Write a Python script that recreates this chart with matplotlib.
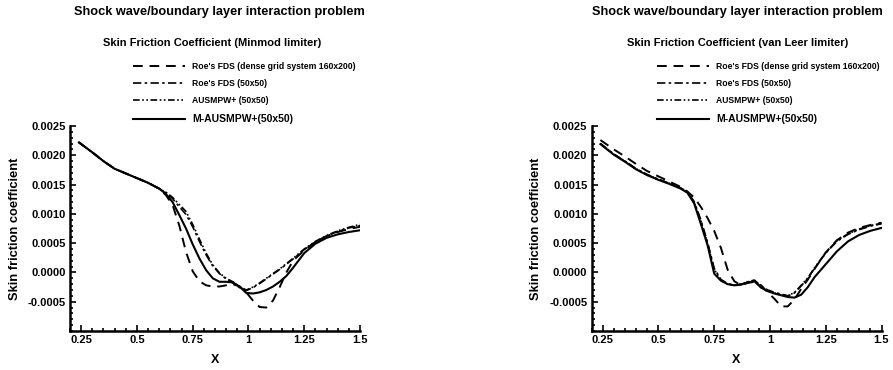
import numpy as np
import matplotlib.pyplot as plt
from matplotlib.ticker import MultipleLocator, FixedLocator, FixedFormatter

plt.rcParams['font.family'] = ['Liberation Sans', 'DejaVu Sans']
plt.rcParams['font.weight'] = 'bold'

# shared x stations
x = [0.24, 0.3, 0.35, 0.4, 0.45, 0.5, 0.55, 0.6, 0.63, 0.66, 0.69, 0.72, 0.75,
     0.78, 0.81, 0.84, 0.87, 0.9, 0.93, 0.96, 0.99, 1.02, 1.05, 1.08, 1.11,
     1.14, 1.17, 1.2, 1.25, 1.3, 1.35, 1.4, 1.45, 1.5]

# Minmod limiter panel
mm_roe_dense = [0.00222, 0.00205, 0.00190, 0.00177, 0.00169, 0.00161, 0.00153, 0.00143,
                0.00132, 0.00115, 0.00080, 0.00035, 0.00002, -0.00015, -0.00022, -0.00024,
                -0.00024, -0.00022, -0.00020, -0.00024, -0.00034, -0.00048, -0.00059, -0.00060,
                -0.00048, -0.00025, 0.00000, 0.00020, 0.00038, 0.00052, 0.00062, 0.00069,
                0.00074, 0.00078]
mm_roe_50 = [0.00222, 0.00205, 0.00190, 0.00177, 0.00169, 0.00161, 0.00153, 0.00143,
             0.00136, 0.00126, 0.00112, 0.00099, 0.00078, 0.00053, 0.00030, 0.00011,
             -0.00002, -0.00011, -0.00018, -0.00026, -0.00031, -0.00026, -0.00019, -0.00011,
             -0.00003, 0.00005, 0.00014, 0.00023, 0.00039, 0.00052, 0.00062, 0.00070,
             0.00076, 0.00080]
mm_ausmpw = [0.00222, 0.00205, 0.00190, 0.00177, 0.00169, 0.00161, 0.00153, 0.00143,
             0.00137, 0.00128, 0.00116, 0.00104, 0.00082, 0.00057, 0.00033, 0.00013,
             -0.00001, -0.00010, -0.00016, -0.00024, -0.00030, -0.00025, -0.00018, -0.00010,
             -0.00002, 0.00006, 0.00015, 0.00024, 0.00040, 0.00053, 0.00063, 0.00071,
             0.00077, 0.00082]
mm_m_ausmpw = [0.00222, 0.00205, 0.00190, 0.00177, 0.00169, 0.00161, 0.00153, 0.00143,
               0.00134, 0.00120, 0.00098, 0.00075, 0.00048, 0.00024, 0.00004, -0.00010,
               -0.00016, -0.00016, -0.00017, -0.00024, -0.00035, -0.00036, -0.00034, -0.00030,
               -0.00024, -0.00016, -0.00006, 0.00008, 0.00033, 0.00049, 0.00059, 0.00065,
               0.00069, 0.00072]

# van Leer limiter panel
vl_roe_dense = [0.00226, 0.00210, 0.00198, 0.00185, 0.00173, 0.00164, 0.00155, 0.00146,
                0.00138, 0.00128, 0.00112, 0.00093, 0.00071, 0.00042, 0.00005, -0.00015,
                -0.00022, -0.00018, -0.00016, -0.00022, -0.00034, -0.00045, -0.00058, -0.00058,
                -0.00046, -0.00028, -0.00012, 0.00006, 0.00034, 0.00055, 0.00068, 0.00076,
                0.00081, 0.00085]
vl_roe_50 = [0.00220, 0.00202, 0.00190, 0.00177, 0.00167, 0.00159, 0.00152, 0.00144,
             0.00138, 0.00121, 0.00090, 0.00052, 0.00007, -0.00012, -0.00019, -0.00022,
             -0.00020, -0.00016, -0.00013, -0.00023, -0.00030, -0.00034, -0.00037, -0.00040,
             -0.00035, -0.00023, -0.00010, 0.00007, 0.00033, 0.00053, 0.00065, 0.00073,
             0.00079, 0.00083]
vl_ausmpw = [0.00220, 0.00202, 0.00190, 0.00177, 0.00167, 0.00159, 0.00152, 0.00144,
             0.00137, 0.00120, 0.00088, 0.00050, 0.00005, -0.00013, -0.00020, -0.00022,
             -0.00020, -0.00016, -0.00014, -0.00024, -0.00031, -0.00035, -0.00038, -0.00040,
             -0.00034, -0.00022, -0.00009, 0.00008, 0.00034, 0.00054, 0.00066, 0.00074,
             0.00080, 0.00084]
vl_m_ausmpw = [0.00219, 0.00201, 0.00189, 0.00176, 0.00166, 0.00158, 0.00151, 0.00143,
               0.00136, 0.00118, 0.00083, 0.00047, -0.00002, -0.00014, -0.00020, -0.00022,
               -0.00021, -0.00017, -0.00015, -0.00026, -0.00032, -0.00036, -0.00039, -0.00042,
               -0.00043, -0.00038, -0.00025, -0.00008, 0.00014, 0.00036, 0.00053, 0.00064,
               0.00071, 0.00076]

labels = ["Roe's FDS (dense grid system 160x200)", "Roe's FDS (50x50)",
          "AUSMPW+ (50x50)", "M-AUSMPW+(50x50)"]
styles = [(0, (5, 3.5)), (0, (5, 2, 1.5, 2)), (0, (4, 1.5, 1, 1.5, 1, 1.5)), '-']
widths = [1.4, 1.2, 1.2, 1.5]

xticks = [0.25, 0.5, 0.75, 1, 1.25, 1.5]
xticklabels = ['0.25', '0.5', '0.75', '1', '1.25', '1.5']
yticks = [-0.0005, 0.0, 0.0005, 0.0010, 0.0015, 0.0020, 0.0025]
yticklabels = ['-0.0005', '0.0000', '0.0005', '0.0010', '0.0015', '0.0020', '0.0025']

fig = plt.figure(figsize=(8.93, 3.70), dpi=100)

panels = [
    (70, 'Skin Friction Coefficient (Minmod limiter)', 219, 212, 133,
     [mm_roe_dense, mm_roe_50, mm_ausmpw, mm_m_ausmpw]),
    (591.5, 'Skin Friction Coefficient (van Leer limiter)', 737, 738, 657,
     [vl_roe_dense, vl_roe_50, vl_ausmpw, vl_m_ausmpw]),
]

for left, sub, tx, sx, lx, series in panels:
    ax = fig.add_axes([left / 893, 39 / 370, 290 / 893, 205 / 370])
    for ys, ls, lw, lab in zip(series, styles, widths, labels):
        ax.plot(x, ys, color='black', linestyle=ls, linewidth=lw, label=lab)
    ax.set_xlim(0.2, 1.5)
    ax.set_ylim(-0.001, 0.0025)
    ax.xaxis.set_major_locator(FixedLocator(xticks))
    ax.xaxis.set_major_formatter(FixedFormatter(xticklabels))
    ax.yaxis.set_major_locator(FixedLocator(yticks))
    ax.yaxis.set_major_formatter(FixedFormatter(yticklabels))
    ax.xaxis.set_minor_locator(MultipleLocator(0.05))
    ax.yaxis.set_minor_locator(MultipleLocator(0.0001))
    ax.tick_params(which='both', direction='in', width=1.2, labelsize=8)
    ax.tick_params(which='major', length=4, pad=3)
    ax.tick_params(which='minor', length=2)
    ax.spines['top'].set_visible(False)
    ax.spines['right'].set_visible(False)
    ax.spines['left'].set_linewidth(1.8)
    ax.spines['bottom'].set_linewidth(1.8)
    for t in ax.get_xticklabels() + ax.get_yticklabels():
        t.set_fontweight('bold')
    ax.set_ylabel('Skin friction coefficient', fontsize=9.3, fontweight='bold')
    ax.yaxis.set_label_coords(-0.17, 0.5)
    ax.set_xlabel('X', fontsize=9, fontweight='bold')
    ax.xaxis.set_label_coords(0.5, -0.11)

    fig.text(tx / 893, 1 - 12 / 370, 'Shock wave/boundary layer interaction problem',
             ha='center', va='center', fontsize=9.2, fontweight='bold')
    fig.text(sx / 893, 1 - 43 / 370, sub, ha='center', va='center',
             fontsize=8, fontweight='bold')

    leg = ax.legend(loc='upper left', bbox_to_anchor=(lx / 893, 1 - 62 / 370),
                    bbox_transform=fig.transFigure, frameon=False, fontsize=6.2,
                    handlelength=6.0, handletextpad=0.9, labelspacing=0.95,
                    borderpad=0, borderaxespad=0)
    texts = leg.get_texts()
    for t in texts:
        t.set_fontweight('bold')
    texts[-1].set_fontsize(7.5)

fig.savefig('out.png', dpi=100)
